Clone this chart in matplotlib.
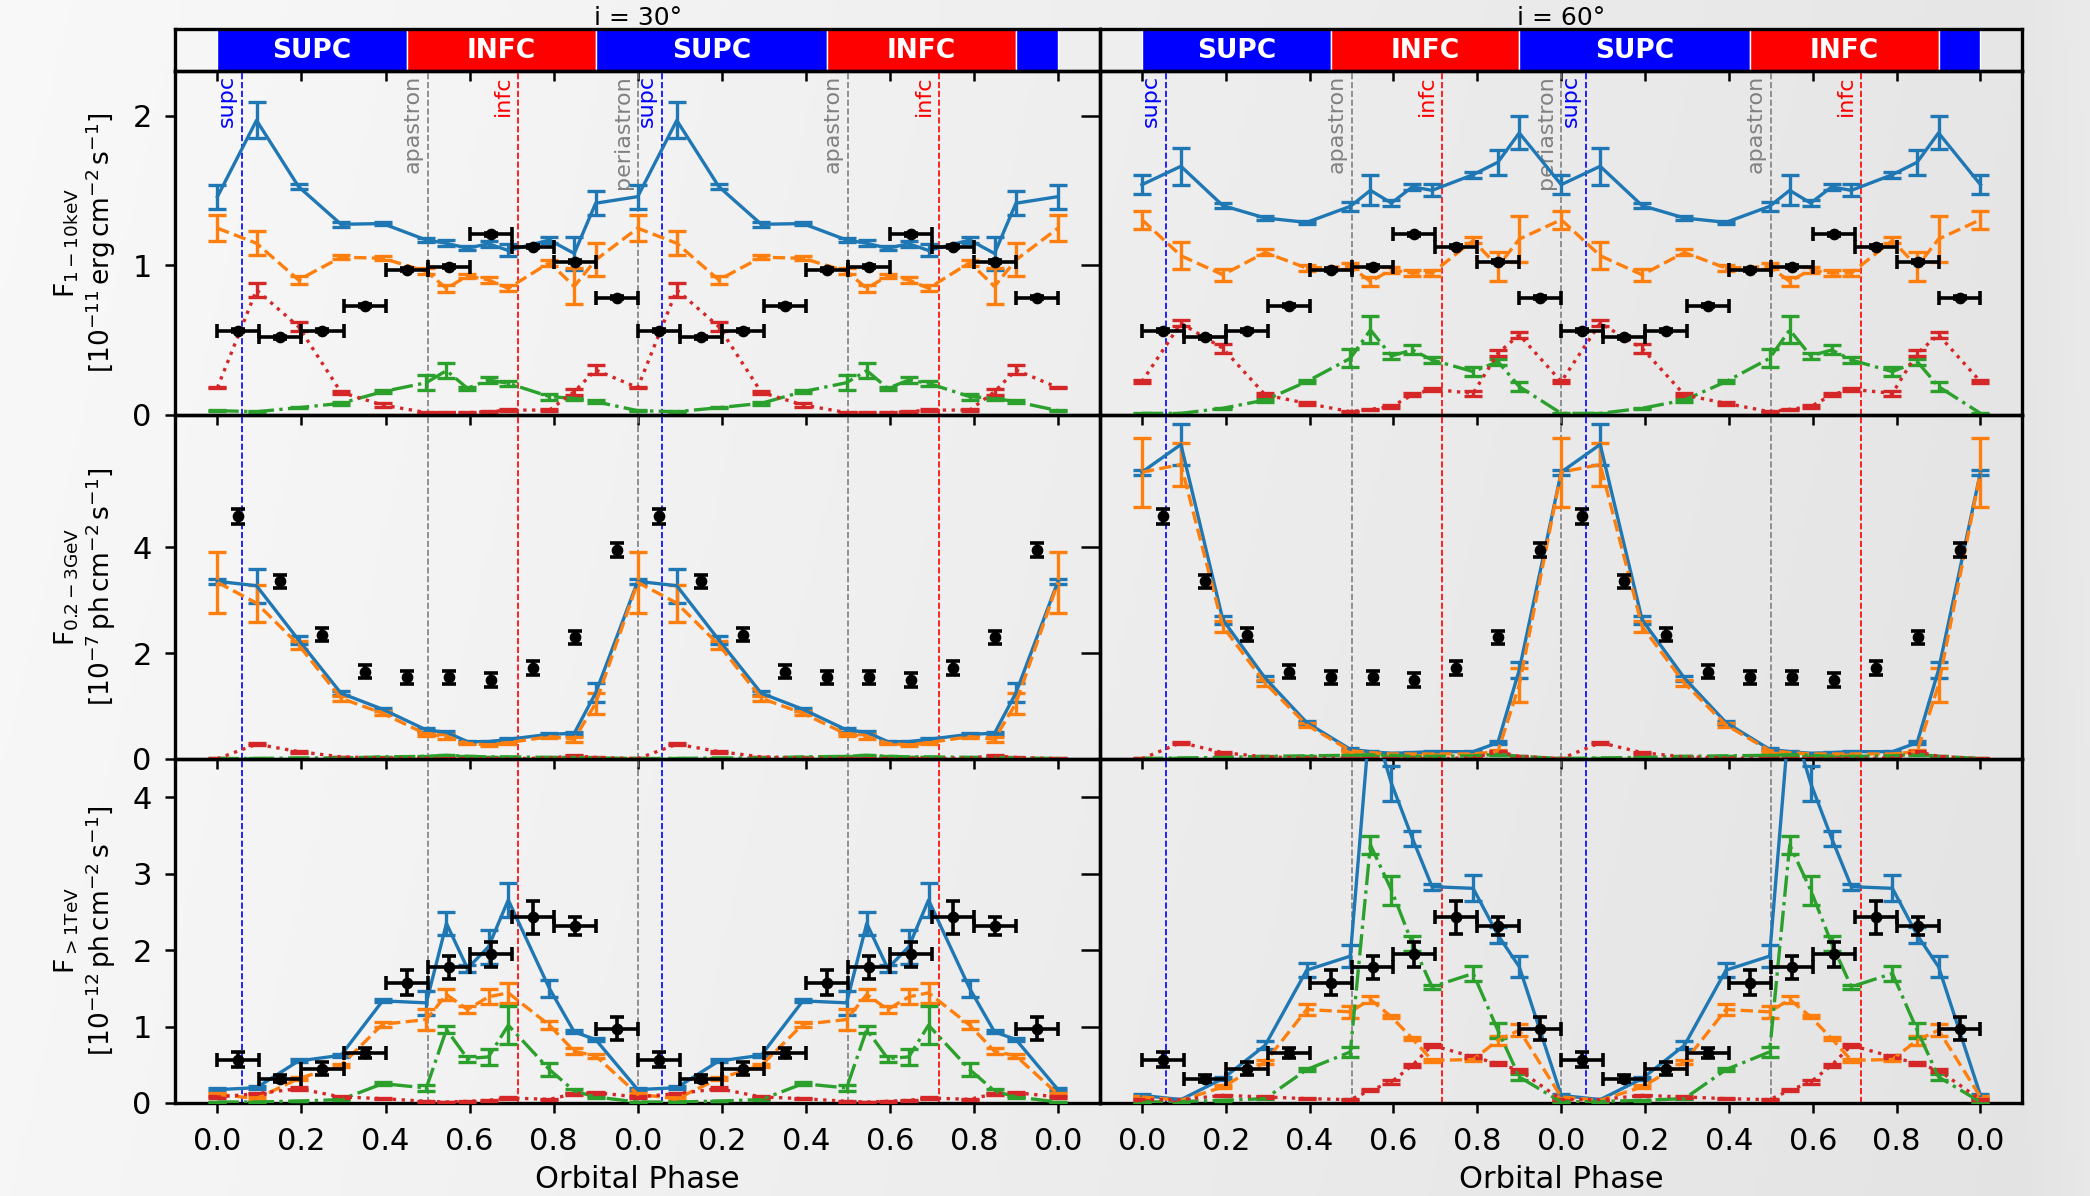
import numpy as np
import matplotlib
matplotlib.use('Agg')
import matplotlib.pyplot as plt
from matplotlib.transforms import blended_transform_factory

# ---------------- data ----------------
model_phase = [0.0, 0.093, 0.193, 0.294, 0.393, 0.497, 0.545, 0.595, 0.645, 0.692, 0.79, 0.849, 0.9]
data_phase = [0.05, 0.15, 0.25, 0.35, 0.45, 0.55, 0.65, 0.75, 0.85, 0.95]

# X-ray 1-10 keV  [1e-11 erg cm-2 s-1]
xr30_total = [1.46, 1.97, 1.527, 1.275, 1.28, 1.17, 1.148, 1.115, 1.145, 1.10, 1.17, 1.08, 1.416]
xr30_total_err = [0.08, 0.12, 0.015, 0.015, 0.012, 0.015, 0.02, 0.015, 0.02, 0.04, 0.02, 0.11, 0.08]
xr30_c1 = [1.249, 1.148, 0.903, 1.055, 1.048, 0.96, 0.847, 0.93, 0.903, 0.847, 1.019, 0.86, 1.037]
xr30_c1_err = [0.085, 0.08, 0.025, 0.015, 0.015, 0.02, 0.025, 0.015, 0.02, 0.02, 0.02, 0.12, 0.11]
xr30_c2 = [0.029, 0.022, 0.049, 0.078, 0.156, 0.216, 0.297, 0.178, 0.234, 0.212, 0.123, 0.111, 0.089]
xr30_c2_err = [0.005, 0.005, 0.005, 0.008, 0.01, 0.05, 0.05, 0.01, 0.02, 0.015, 0.02, 0.01, 0.01]
xr30_c3 = [0.183, 0.836, 0.591, 0.152, 0.067, 0.016, 0.016, 0.016, 0.022, 0.033, 0.033, 0.156, 0.301]
xr30_c3_err = [0.005, 0.045, 0.03, 0.01, 0.015, 0.005, 0.005, 0.005, 0.005, 0.008, 0.008, 0.02, 0.03]

xr60_total = [1.54, 1.663, 1.40, 1.317, 1.288, 1.395, 1.502, 1.417, 1.525, 1.502, 1.607, 1.69, 1.886]
xr60_total_err = [0.065, 0.125, 0.015, 0.012, 0.012, 0.03, 0.1, 0.02, 0.02, 0.04, 0.02, 0.085, 0.11]
xr60_c1 = [1.306, 1.065, 0.9375, 1.087, 0.982, 0.993, 0.893, 0.971, 0.949, 0.949, 1.167, 0.993, 1.176]
xr60_c1_err = [0.06, 0.09, 0.04, 0.02, 0.02, 0.02, 0.03, 0.02, 0.02, 0.02, 0.02, 0.1, 0.155]
xr60_c2 = [0.011, 0.011, 0.045, 0.10, 0.223, 0.379, 0.569, 0.395, 0.435, 0.368, 0.29, 0.357, 0.19]
xr60_c2_err = [0.005, 0.005, 0.005, 0.01, 0.01, 0.06, 0.09, 0.02, 0.03, 0.02, 0.03, 0.02, 0.03]
xr60_c3 = [0.223, 0.614, 0.446, 0.134, 0.078, 0.022, 0.038, 0.056, 0.134, 0.172, 0.145, 0.413, 0.536]
xr60_c3_err = [0.008, 0.02, 0.03, 0.01, 0.008, 0.005, 0.005, 0.008, 0.01, 0.01, 0.015, 0.02, 0.02]

# GeV 0.2-3 GeV  [1e-7 ph cm-2 s-1]
ge30_total = [3.357, 3.274, 2.25, 1.243, 0.94, 0.549, 0.505, 0.328, 0.328, 0.372, 0.467, 0.486, 1.25]
ge30_total_err = [0.05, 0.32, 0.08, 0.04, 0.03, 0.03, 0.03, 0.02, 0.02, 0.02, 0.02, 0.03, 0.18]
ge30_c1 = [3.338, 2.946, 2.158, 1.148, 0.864, 0.467, 0.423, 0.297, 0.265, 0.309, 0.423, 0.372, 1.054]
ge30_c1_err = [0.57, 0.35, 0.08, 0.05, 0.04, 0.03, 0.04, 0.02, 0.02, 0.02, 0.02, 0.05, 0.2]
ge30_c2 = [0.01, 0.01, 0.02, 0.02, 0.04, 0.05, 0.07, 0.05, 0.04, 0.04, 0.03, 0.03, 0.02]
ge30_c2_err = [0.005] * 13
ge30_c3 = [0.005, 0.28, 0.14, 0.04, 0.02, 0.01, 0.01, 0.005, 0.005, 0.005, 0.02, 0.06, 0.03]
ge30_c3_err = [0.005, 0.02, 0.02, 0.005, 0.005, 0.005, 0.005, 0.005, 0.005, 0.005, 0.005, 0.01, 0.005]

ge60_total = [5.42, 5.943, 2.631, 1.527, 0.688, 0.183, 0.139, 0.107, 0.12, 0.139, 0.139, 0.309, 1.685]
ge60_total_err = [0.05, 0.38, 0.08, 0.05, 0.03, 0.02, 0.02, 0.01, 0.01, 0.01, 0.01, 0.03, 0.15]
ge60_c1 = [5.42, 5.565, 2.505, 1.432, 0.644, 0.158, 0.12, 0.095, 0.095, 0.095, 0.095, 0.139, 1.40]
ge60_c1_err = [0.65, 0.4, 0.1, 0.06, 0.04, 0.02, 0.02, 0.01, 0.01, 0.01, 0.01, 0.03, 0.32]
ge60_c2 = [0.01, 0.02, 0.03, 0.05, 0.06, 0.07, 0.08, 0.07, 0.05, 0.05, 0.06, 0.09, 0.05]
ge60_c2_err = [0.005] * 13
ge60_c3 = [0.005, 0.31, 0.12, 0.04, 0.02, 0.01, 0.01, 0.01, 0.01, 0.01, 0.02, 0.14, 0.05]
ge60_c3_err = [0.005, 0.02, 0.02, 0.005, 0.005, 0.005, 0.005, 0.005, 0.005, 0.005, 0.005, 0.01, 0.005]

# TeV >1 TeV  [1e-12 ph cm-2 s-1]
te30_total = [0.175, 0.2, 0.55, 0.624, 1.336, 1.31, 2.349, 1.76, 2.044, 2.655, 1.498, 0.93, 0.83]
te30_total_err = [0.02, 0.02, 0.02, 0.02, 0.02, 0.16, 0.15, 0.05, 0.22, 0.22, 0.11, 0.02, 0.02]
te30_c1 = [0.114, 0.057, 0.319, 0.493, 1.03, 1.092, 1.419, 1.223, 1.389, 1.441, 1.017, 0.677, 0.616]
te30_c1_err = [0.02, 0.02, 0.02, 0.02, 0.03, 0.14, 0.07, 0.04, 0.1, 0.13, 0.05, 0.04, 0.03]
te30_c2 = [0.013, 0.013, 0.026, 0.044, 0.253, 0.197, 0.961, 0.581, 0.603, 1.017, 0.437, 0.157, 0.079]
te30_c2_err = [0.005, 0.005, 0.005, 0.01, 0.02, 0.04, 0.05, 0.04, 0.1, 0.25, 0.08, 0.02, 0.01]
te30_c3 = [0.079, 0.122, 0.188, 0.079, 0.057, 0.022, 0.013, 0.022, 0.035, 0.066, 0.048, 0.122, 0.135]
te30_c3_err = [0.01, 0.01, 0.015, 0.01, 0.01, 0.005, 0.005, 0.005, 0.008, 0.01, 0.01, 0.015, 0.015]

te60_total = [0.10, 0.044, 0.319, 0.755, 1.738, 1.921, 5.1, 4.183, 3.463, 2.83, 2.808, 2.197, 1.782]
te60_total_err = [0.02, 0.01, 0.02, 0.05, 0.09, 0.14, 0.3, 0.23, 0.1, 0.04, 0.17, 0.1, 0.14]
te60_c1 = [0.079, 0.035, 0.21, 0.537, 1.223, 1.192, 1.354, 1.127, 0.843, 0.559, 0.568, 0.821, 0.952]
te60_c1_err = [0.01, 0.01, 0.02, 0.03, 0.07, 0.08, 0.05, 0.02, 0.02, 0.02, 0.02, 0.06, 0.08]
te60_c2 = [0.013, 0.02, 0.035, 0.057, 0.437, 0.668, 3.376, 2.786, 2.087, 1.52, 1.694, 0.952, 0.341]
te60_c2_err = [0.005, 0.005, 0.01, 0.01, 0.02, 0.07, 0.12, 0.19, 0.1, 0.03, 0.1, 0.1, 0.04]
te60_c3 = [0.044, 0.044, 0.1, 0.079, 0.057, 0.044, 0.166, 0.275, 0.493, 0.755, 0.603, 0.515, 0.428]
te60_c3_err = [0.01, 0.01, 0.01, 0.01, 0.01, 0.01, 0.015, 0.02, 0.02, 0.02, 0.02, 0.02, 0.02]

# observations
obs_xray = [0.564, 0.52, 0.564, 0.731, 0.97, 0.992, 1.208, 1.126, 1.026, 0.783]
obs_xray_err = [0.01] * 10
obs_gev = [4.587, 3.357, 2.347, 1.653, 1.54, 1.54, 1.495, 1.716, 2.297, 3.943]
obs_gev_err = [0.14, 0.12, 0.12, 0.12, 0.13, 0.13, 0.13, 0.13, 0.12, 0.13]
obs_tev = [0.568, 0.319, 0.45, 0.655, 1.576, 1.773, 1.943, 2.428, 2.314, 0.974]
obs_tev_err = [0.1, 0.05, 0.08, 0.06, 0.16, 0.15, 0.16, 0.22, 0.12, 0.15]

orbit_marks = [("supc", 0.058, "blue"), ("apastron", 0.5, "grey"), ("infc", 0.716, "red"),
               ("periastron", 1.0, "grey"), ("supc", 1.058, "blue"), ("apastron", 1.5, "grey"),
               ("infc", 1.716, "red")]
band_edges = [0.0, 0.45, 0.9, 1.45, 1.9, 2.0]
band_labels = ["SUPC", "INFC", "SUPC", "INFC", ""]
band_colors = ["blue", "red", "blue", "red", "blue"]

titles = ["i = 30°", "i = 60°"]
ylabels = [r"$\mathrm{F_{1-10keV}}$" + "\n" + r"$[10^{-11}\,\mathrm{erg\,cm^{-2}\,s^{-1}}]$",
           r"$\mathrm{F_{0.2-3GeV}}$" + "\n" + r"$[10^{-7}\,\mathrm{ph\,cm^{-2}\,s^{-1}}]$",
           r"$\mathrm{F_{>1TeV}}$" + "\n" + r"$[10^{-12}\,\mathrm{ph\,cm^{-2}\,s^{-1}}]$"]
ylims = [2.3, 6.5, 4.5]
yticks = [[0, 1, 2], [0, 2, 4], [0, 1, 2, 3, 4]]
xtick_pos = [0.0, 0.2, 0.4, 0.6, 0.8, 1.0, 1.2, 1.4, 1.6, 1.8, 2.0]
xtick_lab = ["0.0", "0.2", "0.4", "0.6", "0.8", "0.0", "0.2", "0.4", "0.6", "0.8", "0.0"]

models = {
    (0, 0): [(xr30_total, xr30_total_err), (xr30_c1, xr30_c1_err), (xr30_c2, xr30_c2_err), (xr30_c3, xr30_c3_err)],
    (0, 1): [(xr60_total, xr60_total_err), (xr60_c1, xr60_c1_err), (xr60_c2, xr60_c2_err), (xr60_c3, xr60_c3_err)],
    (1, 0): [(ge30_total, ge30_total_err), (ge30_c1, ge30_c1_err), (ge30_c2, ge30_c2_err), (ge30_c3, ge30_c3_err)],
    (1, 1): [(ge60_total, ge60_total_err), (ge60_c1, ge60_c1_err), (ge60_c2, ge60_c2_err), (ge60_c3, ge60_c3_err)],
    (2, 0): [(te30_total, te30_total_err), (te30_c1, te30_c1_err), (te30_c2, te30_c2_err), (te30_c3, te30_c3_err)],
    (2, 1): [(te60_total, te60_total_err), (te60_c1, te60_c1_err), (te60_c2, te60_c2_err), (te60_c3, te60_c3_err)],
}
observations = [(obs_xray, obs_xray_err, True), (obs_gev, obs_gev_err, False), (obs_tev, obs_tev_err, True)]

# ---------------- styling ----------------
series_style = [("#1f77b4", "-"), ("#ff7f0e", "--"), ("#2ca02c", "-."), ("#d62728", ":")]


def two_cycles(ph, v):
    x = list(ph) + [p + 1 for p in ph] + [2.0]
    y = list(v) + list(v) + [v[0]]
    return x, y


W, H = 2090, 1196
fig = plt.figure(figsize=(W / 200, H / 200), dpi=200)

# soft grey background
bg = fig.add_axes([0, 0, 1, 1], zorder=-10)
gx = np.linspace(0, 1, 400)
gy = np.linspace(0, 1, 200)
GX, GY = np.meshgrid(gx, gy)
shade = 0.965 - 0.075 * GX + 0.02 * np.clip((GX - 0.97) / 0.03, 0, 1) + 0.01 * GY
bg.imshow(np.dstack([shade] * 3), extent=[0, 1, 0, 1], aspect='auto', origin='lower')
bg.set_axis_off()

col_x = [175.4 / W, 1100 / W]
col_w = [(1100 - 175.4) / W, (2022.4 - 1100) / W]
row_top = [71, 415, 759]
row_h = 344
bar_top, bar_h = 29, 42

for c in range(2):
    # conjunction bar
    bax = fig.add_axes([col_x[c], 1 - (bar_top + bar_h) / H, col_w[c], bar_h / H])
    bax.set_facecolor('none')
    bax.set_xlim(-0.1, 2.1)
    bax.set_ylim(0, 1)
    for i in range(len(band_labels)):
        bax.axvspan(band_edges[i], band_edges[i + 1], color=band_colors[i], ec='white', lw=0.5)
        if band_labels[i]:
            bax.text((band_edges[i] + band_edges[i + 1]) / 2, 0.48, band_labels[i], color='white',
                     fontsize=9.5, fontweight='bold', ha='center', va='center')
    bax.set_yticks([])
    bax.set_xticks(xtick_pos)
    bax.set_xticklabels([])
    bax.tick_params(axis='x', direction='out', length=3.5, width=0.9)
    for s in bax.spines.values():
        s.set_linewidth(1.2)
    fig.text(col_x[c] + col_w[c] / 2, 1 - 25 / H, titles[c], ha='center', va='baseline', fontsize=9)

    for r in range(3):
        ax = fig.add_axes([col_x[c], 1 - (row_top[r] + row_h) / H, col_w[c], row_h / H])
        ax.set_facecolor('none')
        ax.set_xlim(-0.1, 2.1)
        ax.set_ylim(0, ylims[r])
        for s in ax.spines.values():
            s.set_linewidth(1.2)
        # orbital markers
        for name, xp, colr in orbit_marks:
            ax.axvline(xp, color=colr, ls='--', lw=0.6, zorder=1)
            if r == 0:
                ax.text(xp - 0.012, 0.988, name, rotation=90, color=colr, fontsize=8,
                        ha='right', va='top',
                        transform=blended_transform_factory(ax.transData, ax.transAxes))
        # models
        for (vals, errs), (colr, ls) in zip(models[(r, c)], series_style):
            x, y = two_cycles(model_phase, vals)
            _, e = two_cycles(model_phase, errs)
            ax.errorbar(x, y, yerr=e, color=colr, ls=ls, lw=1.2, elinewidth=1.2,
                        capsize=3.3, capthick=1.2, zorder=3)
        # observations
        ov, oe, has_xerr = observations[r]
        ox, oy = two_cycles(data_phase, ov)
        _, oey = two_cycles(data_phase, oe)
        ox, oy, oey = ox[:-1], oy[:-1], oey[:-1]
        ax.errorbar(ox, oy, yerr=oey, xerr=0.05 if has_xerr else None, fmt='o', color='black',
                    ms=3.2, lw=1.3, elinewidth=1.3, capsize=2.4, capthick=1.3, zorder=5)
        ax.set_xticks(xtick_pos)
        ax.set_yticks(yticks[r])
        ax.tick_params(axis='both', direction='out', length=3.5, width=0.9, labelsize=11, pad=5)
        if r == 2:
            ax.set_xticklabels(xtick_lab)
        else:
            ax.set_xticklabels([])
        if c == 0:
            ax.set_ylabel(ylabels[r], fontsize=9.5, linespacing=1.1)
            ax.yaxis.set_label_coords(-0.062, 0.5)
        else:
            ax.set_yticklabels([])
            ax.tick_params(axis='y', length=7)
        if r == 2:
            fig.text(col_x[c] + col_w[c] / 2, 2 / H, "Orbital Phase", ha='center', va='bottom',
                     fontsize=11)

fig.savefig('out.png', dpi=200)
